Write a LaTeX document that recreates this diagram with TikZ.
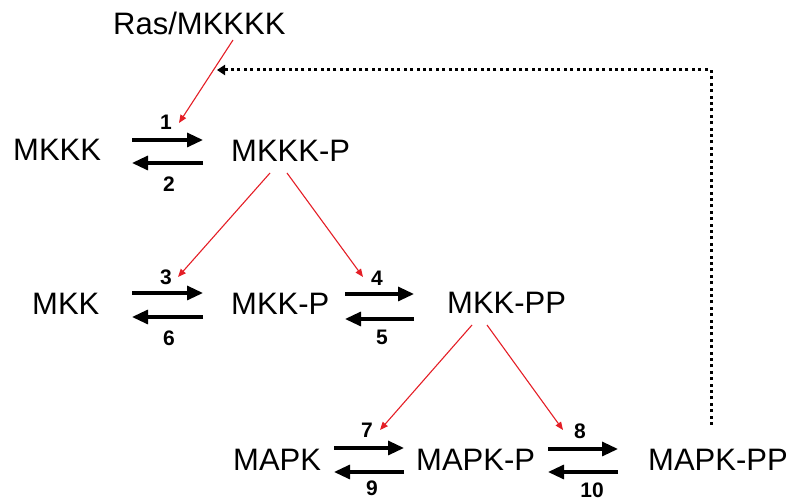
\documentclass[tikz,border=0pt]{standalone}
\usepackage{fontspec}
\setmainfont{Liberation Sans}
\usetikzlibrary{arrows.meta}
\definecolor{actred}{RGB}{228,30,38}
\begin{document}
\begin{tikzpicture}[x=1pt,y=-1pt,
  species/.style={anchor=base west,inner sep=0pt,font=\fontsize{31}{31}\selectfont},
  rate/.style={inner sep=0pt,font=\fontsize{21}{21}\selectfont\bfseries},
  react/.style={line width=3.2pt,-{Triangle[length=16pt,width=14pt]}},
  catal/.style={draw=actred,line width=1.1pt,-{Triangle[length=8pt,width=6.5pt]}},
  feedback/.style={line width=3pt,dash pattern=on 3pt off 3.4pt,-{Triangle[length=8pt,width=10pt]}}]
\useasboundingbox (0,0) rectangle (793,502);

% species
\node[species] (ras)    at (113,35)  {Ras/MKKKK};
\node[species] (mkkk)   at (13,161)  {MKKK};
\node[species] (mkkkp)  at (231,162) {MKKK-P};
\node[species] (mkk)    at (32,315)  {MKK};
\node[species] (mkkp)   at (231,315) {MKK-P};
\node[species] (mkkpp)  at (447,314) {MKK-PP};
\node[species] (mapk)   at (233,471) {MAPK};
\node[species] (mapkp)  at (416,471) {MAPK-P};
\node[species] (mapkpp) at (648,471) {MAPK-PP};

% reaction arrow end points
\coordinate (r1a) at (132,140); \coordinate (r1b) at (203,140);
\coordinate (r2a) at (203,163); \coordinate (r2b) at (132,163);
\coordinate (r3a) at (132,293); \coordinate (r3b) at (203,293);
\coordinate (r6a) at (203,317); \coordinate (r6b) at (132,317);
\coordinate (r4a) at (345,294); \coordinate (r4b) at (414,294);
\coordinate (r5a) at (414,319); \coordinate (r5b) at (345,319);
\coordinate (r7a) at (334,448); \coordinate (r7b) at (404,448);
\coordinate (r9a) at (404,472); \coordinate (r9b) at (334,472);
\coordinate (r8a) at (548,449); \coordinate (r8b) at (618,449);
\coordinate (r10a) at (618,472); \coordinate (r10b) at (548,472);

\draw[react] (r1a) -- (r1b);
\draw[react] (r2a) -- (r2b);
\draw[react] (r3a) -- (r3b);
\draw[react] (r6a) -- (r6b);
\draw[react] (r4a) -- (r4b);
\draw[react] (r5a) -- (r5b);
\draw[react] (r7a) -- (r7b);
\draw[react] (r9a) -- (r9b);
\draw[react] (r8a) -- (r8b);
\draw[react] (r10a) -- (r10b);

% rate labels
\node[rate] (l1)  at (166,122) {1};
\node[rate] (l2)  at (169,184) {2};
\node[rate] (l3)  at (166,277) {3};
\node[rate] (l6)  at (169,338) {6};
\node[rate] (l4)  at (377,278) {4};
\node[rate] (l5)  at (382,337) {5};
\node[rate] (l7)  at (367,430) {7};
\node[rate] (l9)  at (372,488) {9};
\node[rate] (l8)  at (580,431) {8};
\node[rate] (l10) at (592,490) {10};

% catalysis (red) arrows
\coordinate (c0s) at (233,40);  \coordinate (c0e) at (179,123);
\coordinate (c1s) at (270,173); \coordinate (c1e) at (178,277);
\coordinate (c2s) at (287,173); \coordinate (c2e) at (363,277);
\coordinate (c3s) at (472,325); \coordinate (c3e) at (380,430);
\coordinate (c4s) at (487,325); \coordinate (c4e) at (563,430);
\draw[catal] (c0s) -- (c0e);
\draw[catal] (c1s) -- (c1e);
\draw[catal] (c2s) -- (c2e);
\draw[catal] (c3s) -- (c3e);
\draw[catal] (c4s) -- (c4e);

% feedback from MAPK-PP to the top of the cascade
\coordinate (fbs) at (711,425);
\coordinate (fbc) at (711,70);
\coordinate (fbe) at (217,70);
\draw[feedback] (fbs) -- (fbc) -- (fbe);
\end{tikzpicture}
\end{document}
